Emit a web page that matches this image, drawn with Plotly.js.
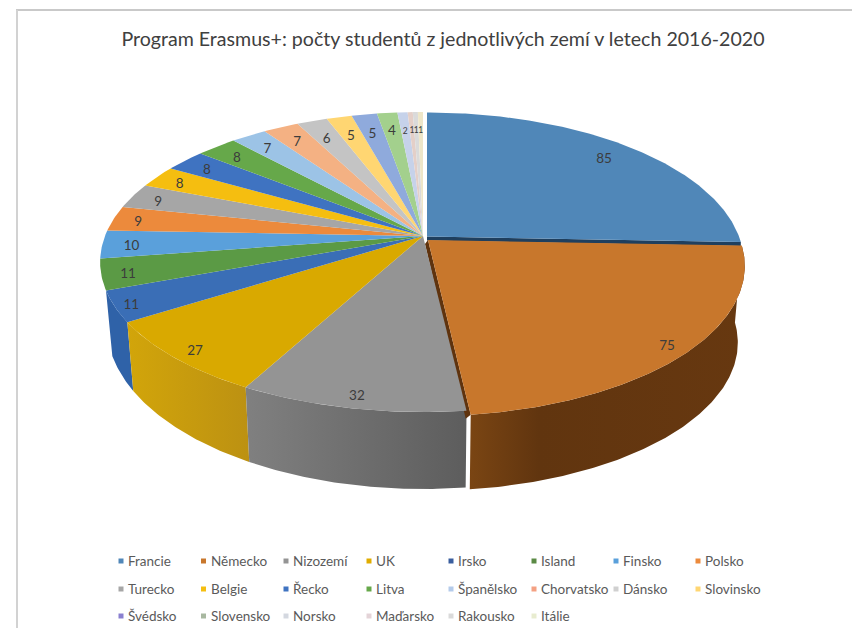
<!DOCTYPE html>
<html>
<head>
<meta charset="utf-8">
<script src="https://cdn.plot.ly/plotly-3.0.1.min.js"></script>
<style>html,body{margin:0;padding:0;background:#fff}#c{width:852px;height:628px}</style>
</head>
<body>
<div id="c"></div>
<script>
const countries = ["Francie","Německo","Nizozemí","UK","Irsko","Island","Finsko","Polsko","Turecko","Belgie","Řecko","Litva","Španělsko","Chorvatsko","Dánsko","Slovinsko","Švédsko","Slovensko","Norsko","Maďarsko","Rakousko","Itálie"];
const students = [85,75,32,27,11,11,10,9,9,8,8,8,7,7,6,5,5,4,2,1,1,1];
const topColors = ["#5087B8","#C8772C","#949494","#D9A900","#3A6EB6","#5B9A45","#5AA0DB","#EC8A3C","#A6A6A6","#F5BE10","#3F73C1","#66A84A","#9CC3E6","#F4B183","#C4C4C4","#FFD672","#8FAADC","#A3D08D","#C6D2EA","#E4CFC8","#DADADA","#EEE6C8"];
const legendColors = ["#5087B8","#C8772C","#949494","#E0AC00","#3A5E9E","#5B8A45","#5AA0DB","#EC8A3C","#A6A6A6","#F5BE10","#3F73C1","#66A84A","#B4CBEA","#F4A183","#D0D0D0","#FFD672","#8A80D0","#A8B8A0","#D4D8E0","#E4D4D8","#DADADA","#E8ECD0"];
const sideScales = {
  1:[[0,"#7A4513"],[0.25,"#61350F"],[1,"#673810"]],
  2:[[0,"#808080"],[1,"#5D5D5D"]],
  3:[[0,"#D2A50A"],[1,"#BC9112"]],
  4:[[0,"#2F62A8"],[1,"#2F62A8"]]
};
const labelRadius = [.87,.93,.93,.93,.95,.92,.91,.92,.91,.91,.90,.89,.88,.87,.85,.84,.84,.85,.85,.85,.85,.85];

const total = students.reduce((a,b)=>a+b,0);
const C = 0.1733, A = 145.5;

function geom(i){
  if(i===0) return {ax:427,ay:236.5,k:312,sx:.98,sy:1,d:80};
  if(i===1) return {ax:428,ay:240,k:312,sx:.978,sy:.987,d:77};
  return {ax:423,ay:236,k:318,sx:.98,sy:1.093,d:60.6};
}
function proj(g,theta,r){
  const u=Math.sin(theta)*r, v=Math.cos(theta)*r, d=1+C*v;
  return [g.k*u/d, A*v/d];
}
const traces=[];
let cum=0;
const slices=students.map((s,i)=>{
  const t0=cum/total*2*Math.PI; cum+=s; const t1=cum/total*2*Math.PI;
  return {i,t0,t1,g:geom(i)};
});
function arc(sl,bottom){
  const n=Math.max(6,Math.ceil((sl.t1-sl.t0)*90)), xs=[], ys=[], g=sl.g;
  for(let j=0;j<=n;j++){
    const p=proj(g,sl.t0+(sl.t1-sl.t0)*j/n,1);
    if(bottom){xs.push(g.ax+p[0]*g.sx); ys.push(g.ay-p[1]*g.sy+g.d);}
    else {xs.push(g.ax+p[0]); ys.push(g.ay-p[1]);}
  }
  return {xs,ys};
}
// outer side walls, back to front
[4,3,2,1].forEach(i=>{
  const sl=slices[i];
  const a=arc(sl,false), b=arc(sl,true);
  const x=a.xs.concat(b.xs.slice().reverse()), y=a.ys.concat(b.ys.slice().reverse());
  x.push(x[0]); y.push(y[0]);
  traces.push({type:"scatter",mode:"lines",x,y,fill:"toself",line:{width:0},hoverinfo:"skip",showlegend:false,fillgradient:{type:"horizontal",colorscale:sideScales[i]}});
});
// inner cut walls
(function(){
  const sF=slices[0], pF=proj(sF.g,sF.t1,1);
  traces.push({type:"scatter",mode:"lines",x:[sF.g.ax,sF.g.ax+pF[0],sF.g.ax+pF[0],sF.g.ax],y:[sF.g.ay,sF.g.ay-pF[1],sF.g.ay-pF[1]+4,sF.g.ay+4],fill:"toself",fillcolor:"#1F3F5E",line:{width:0},hoverinfo:"skip",showlegend:false});
  const sG=slices[1], pG=proj(sG.g,sG.t1,1);
  traces.push({type:"scatter",mode:"lines",x:[sG.g.ax,sG.g.ax+pG[0],sG.g.ax+pG[0]-5,sG.g.ax-3],y:[sG.g.ay,sG.g.ay-pG[1],sG.g.ay-pG[1]+4,sG.g.ay+4],fill:"toself",fillcolor:"#5F330E",line:{width:0},hoverinfo:"skip",showlegend:false});
})();
// top faces
slices.forEach(sl=>{
  const a=arc(sl,false);
  const x=[sl.g.ax].concat(a.xs,[sl.g.ax]), y=[sl.g.ay].concat(a.ys,[sl.g.ay]);
  traces.push({type:"scatter",mode:"lines",x,y,fill:"toself",fillcolor:topColors[sl.i],line:{width:0},name:countries[sl.i],text:countries[sl.i]+": "+students[sl.i],hoverinfo:"text",hoveron:"fills",showlegend:false});
});
// value labels
const lx=[],ly=[];
slices.forEach(sl=>{
  const p=proj(sl.g,(sl.t0+sl.t1)/2,labelRadius[sl.i]);
  lx.push(sl.g.ax+p[0]); ly.push(sl.g.ay-p[1]+3);
});
traces.push({type:"scatter",mode:"text",x:lx,y:ly,text:students.map(String),textposition:"middle center",textfont:{family:"Lato, sans-serif",size:students.map(v=>v<=2?8.5:13.5),color:"#3C3C3C"},hoverinfo:"skip",showlegend:false});
// legend
const colX=[121,203.5,286,369,451,534,616,698], rowY=[561,589,616];
const mx=[],my=[],ann=[];
countries.forEach((c,i)=>{
  const col=i%8,row=Math.floor(i/8);
  mx.push(colX[col]); my.push(rowY[row]);
  ann.push({x:colX[col]+5,y:rowY[row],xref:"x",yref:"y",xanchor:"left",yanchor:"middle",showarrow:false,text:c,font:{family:"Lato, sans-serif",size:13.5,color:"#5A5A5A"}});
});
traces.push({type:"scatter",mode:"markers",x:mx,y:my,marker:{symbol:"square",size:5,color:legendColors},hoverinfo:"skip",showlegend:false});

const layout={
  width:852,height:628,margin:{l:0,r:0,t:0,b:0},paper_bgcolor:"#fff",plot_bgcolor:"#fff",showlegend:false,
  hovermode:"closest",
  title:{text:"Program Erasmus+: počty studentů z jednotlivých zemí v letech 2016-2020",x:443/852,xanchor:"center",y:1-39/628,yanchor:"middle",font:{family:"Lato, sans-serif",size:19.6,color:"#404040"}},
  xaxis:{range:[0,852],visible:false,fixedrange:true},
  yaxis:{range:[628,0],visible:false,fixedrange:true},
  annotations:ann,
  shapes:[
    {type:"line",xref:"x",yref:"y",x0:16,x1:852,y0:10,y1:10,line:{color:"#C9C9C9",width:2}},
    {type:"line",xref:"x",yref:"y",x0:17,x1:17,y0:10,y1:628,line:{color:"#D2D2D2",width:2}}
  ]
};
Plotly.newPlot("c",traces,layout,{displayModeBar:false});
</script>
</body>
</html>
